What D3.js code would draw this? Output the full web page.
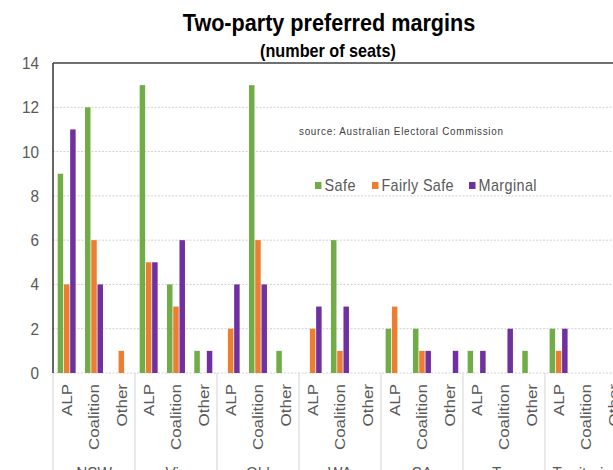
<!DOCTYPE html>
<html>
<head>
<meta charset="utf-8">
<script src="https://cdn.jsdelivr.net/npm/d3@7"></script>
<style>
  html, body { margin: 0; padding: 0; background: #fff; overflow: hidden; }
  svg { display: block; font-family: "Liberation Sans", Arial, sans-serif; }
</style>
</head>
<body>
<svg id="chart" width="613" height="470"></svg>
<script>
// Seats by state/territory, split by party and by two-party preferred margin
const regions = ["NSW", "Vic", "Qld", "WA", "SA", "Tas", "Territories"];
const parties = ["ALP", "Coalition", "Other"];
const seriesNames = ["Safe", "Fairly Safe", "Marginal"];
const seriesColors = ["#70ad47", "#ed7d31", "#7030a0"];

// One value per region x party, in the order of regions then parties
const safe       = [9, 12, 0,  13, 4, 1,  0, 13, 1,  0, 6, 0,  2, 2, 0,  1, 0, 1,  2, 0, 0];
const fairlySafe = [4, 6, 1,   5, 3, 0,   2, 6, 0,   2, 1, 0,  3, 1, 0,  0, 0, 0,  1, 0, 0];
const marginal   = [11, 4, 0,  5, 6, 1,   4, 4, 0,   3, 3, 0,  0, 1, 1,  1, 2, 0,  2, 0, 0];

const yTicks = [0, 2, 4, 6, 8, 10, 12, 14];
const titleText = "Two-party preferred margins";
const subtitleText = "(number of seats)";
const sourceText = "source:  Australian Electoral Commission";

const svg = d3.select("#chart");
const SQ = 0.9; // horizontal squeeze applied to all text

const plot = { left: 53, top: 63, bottom: 373, step: 27.33 };
plot.right = plot.left + plot.step * regions.length * parties.length;

// category keys
const cats = [];
regions.forEach(r => parties.forEach(p => cats.push({ region: r, party: p, key: r + "|" + p })));
const seriesValues = [safe, fairlySafe, marginal];
cats.forEach((c, i) => { c.values = seriesNames.map((s, j) => ({ series: s, color: seriesColors[j], value: seriesValues[j][i] })); });

const x0 = d3.scaleBand().domain(cats.map(c => c.key)).range([plot.left, plot.right]).padding(0);
const x1 = d3.scaleBand().domain(seriesNames).range([0, x0.bandwidth()]).paddingInner(0.12).paddingOuter(0.75);
const y = d3.scaleLinear().domain([0, 14]).range([plot.bottom, plot.top]);

function squishText(g, x, yy) {
  return g.append("text").attr("transform", `translate(${x},${yy}) scale(${SQ},1)`);
}

// gridlines
svg.append("g").selectAll("line").data(yTicks.filter(t => t < 14)).join("line")
  .attr("x1", plot.left).attr("x2", plot.right)
  .attr("y1", d => y(d)).attr("y2", d => y(d))
  .attr("stroke", "#d0d0d0").attr("stroke-width", 1).attr("stroke-dasharray", "2,1.5");

// group separators below the axis
const groupBounds = d3.range(regions.length + 1).map(i => plot.left + i * plot.step * parties.length);
svg.append("g").selectAll("line").data(groupBounds).join("line")
  .attr("x1", d => d).attr("x2", d => d)
  .attr("y1", plot.bottom).attr("y2", 470)
  .attr("stroke", "#d4d4d4").attr("stroke-width", 1);

// bars
const catG = svg.append("g").selectAll("g").data(cats).join("g")
  .attr("transform", d => `translate(${x0(d.key)},0)`);
catG.selectAll("rect").data(d => d.values.filter(v => v.value > 0)).join("rect")
  .attr("x", d => x1(d.series))
  .attr("width", x1.bandwidth())
  .attr("y", d => y(d.value))
  .attr("height", d => y(0) - y(d.value))
  .attr("fill", d => d.color);

// plot frame: top and left
svg.append("line").attr("x1", plot.left).attr("x2", plot.right).attr("y1", plot.top).attr("y2", plot.top)
  .attr("stroke", "#404040").attr("stroke-width", 1.6);
svg.append("line").attr("x1", plot.left).attr("x2", plot.left).attr("y1", plot.top).attr("y2", plot.bottom)
  .attr("stroke", "#404040").attr("stroke-width", 1.6);

// y tick labels
const yLab = svg.append("g").attr("fill", "#595959").attr("font-size", 17);
yTicks.forEach(t => {
  squishText(yLab, 39, y(t)).attr("text-anchor", "end").attr("dy", "0.35em").text(t);
});

// x category labels, rotated
const xLab = svg.append("g").attr("fill", "#595959").attr("font-size", 17);
cats.forEach(c => {
  xLab.append("text")
    .attr("transform", `translate(${x0(c.key) + x0.bandwidth() / 2},384) rotate(-90) scale(1,${SQ})`)
    .attr("text-anchor", "end").attr("dy", "0.35em").text(c.party);
});

// region labels
regions.forEach((r, i) => {
  squishText(xLab, (groupBounds[i] + groupBounds[i + 1]) / 2, 479).attr("text-anchor", "middle").text(r);
});

// titles
squishText(svg, 329, 31).attr("text-anchor", "middle").attr("font-size", 24)
  .attr("font-weight", "bold").attr("fill", "#000").text(titleText);
squishText(svg, 328, 57).attr("text-anchor", "middle").attr("font-size", 18)
  .attr("font-weight", "bold").attr("fill", "#000").text(subtitleText);

// source note
squishText(svg, 299, 135).attr("font-size", 11).attr("fill", "#404040")
  .attr("textLength", 204 / SQ).attr("lengthAdjust", "spacing").text(sourceText);

// legend
const legendX = [315, 372, 469];
const legendW = [31, 72, 58];
const leg = svg.append("g");
seriesNames.forEach((s, i) => {
  leg.append("rect").attr("x", legendX[i]).attr("y", 182).attr("width", 6.5).attr("height", 7)
    .attr("fill", seriesColors[i]);
  squishText(leg, legendX[i] + 9.5, 191).attr("font-size", 16).attr("fill", "#595959")
    .attr("textLength", legendW[i] / SQ).attr("lengthAdjust", "spacing").text(s);
});
</script>
</body>
</html>
